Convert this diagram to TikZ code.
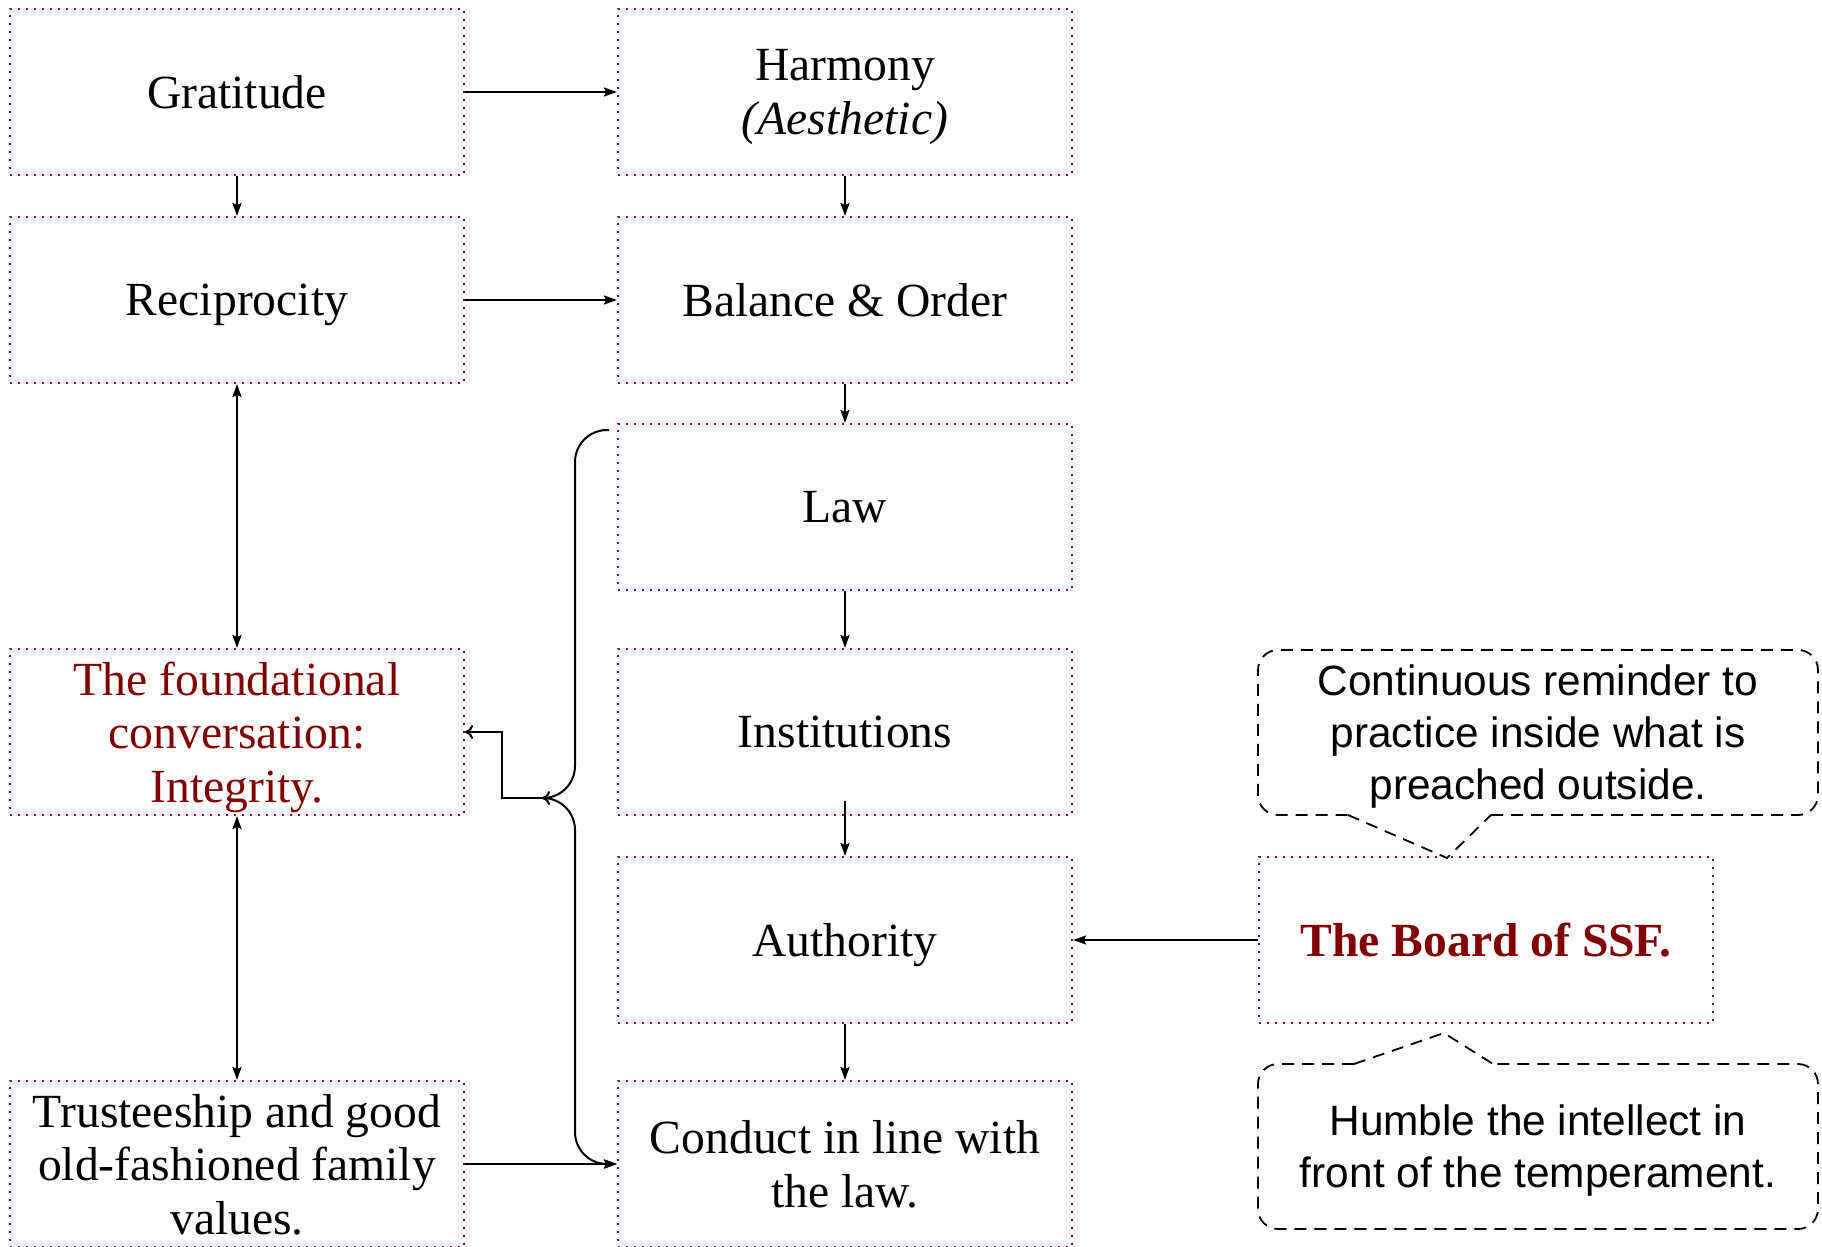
\documentclass[tikz,border=0pt]{standalone}
\usepackage{fontspec}
\setmainfont{Liberation Serif}
\setsansfont{Liberation Sans}
\usetikzlibrary{arrows.meta,calc}
\definecolor{dotred}{RGB}{153,0,51}
\definecolor{textred}{RGB}{128,0,0}
\begin{document}
\begin{tikzpicture}[x=0.5pt,y=-0.5pt,
  stage/.style={draw=dotred, line width=1pt, dash pattern=on 1pt off 3pt,
    minimum width=227pt, minimum height=83pt, inner sep=0pt, align=center,
    text depth=0pt, font=\fontsize{23.8}{26.75}\selectfont},
  note/.style={minimum width=280pt, minimum height=82.5pt, inner sep=0pt,
    align=center, text depth=0pt, font=\sffamily\fontsize{21.2}{26}\selectfont},
  outline/.style={line width=0.9pt, dash pattern=on 6pt off 4pt},
  link/.style={line width=1pt, -{Stealth[length=6.5pt,width=4.5pt,inset=1pt]}},
  twoway/.style={line width=1pt,
    {Stealth[length=6.5pt,width=4.5pt,inset=1pt]}-{Stealth[length=6.5pt,width=4.5pt,inset=1pt]}},
  bracelink/.style={line width=1pt, rounded corners=16pt,
    -{To[length=4pt,width=7pt]}}
]
\useasboundingbox (0,0) rectangle (1822,1247);

% left column
\node[stage] (grat)  at (237,92)   {Gratitude};
\node[stage] (recip) at (237,300)  {Reciprocity};
\node[stage, text=textred] (found) at (237,732)
  {The foundational\\conversation:\\Integrity.};
\node[stage] (trust) at (237,1164)
  {Trusteeship and good\\old-fashioned family\\values.};

% right column
\node[stage] (harm) at (845,92)   {Harmony\\\textit{(Aesthetic)}};
\node[stage] (bal)  at (845,300)  {Balance \& Order};
\node[stage] (law)  at (845,507)  {Law};
\node[stage] (inst) at (845,732)  {Institutions};
\node[stage] (auth) at (845,940)  {Authority};
\node[stage] (cond) at (845,1164) {Conduct in line with\\the law.};

% board and its notes
\node[stage, text=textred] (board) at (1486,940) {\textbf{The Board of SSF.}};
\node[note] (remind) at (1538,732)
  {Continuous reminder to\\practice inside what is\\preached outside.};
\node[note] (humble) at (1538,1146)
  {Humble the intellect in\\front of the temperament.};

% speech-bubble outlines
\draw[outline, rounded corners=10pt] (1491,815) -- (1818,815) -- (1818,650)
  -- (1258,650) -- (1258,815) -- (1348,815);
\draw[outline] (1348,815) -- (1447,858) -- (1491,815);
\draw[outline, rounded corners=10pt] (1354,1064) -- (1258,1064) -- (1258,1229)
  -- (1818,1229) -- (1818,1064) -- (1493,1064);
\draw[outline] (1354,1064) -- (1444,1033) -- (1493,1064);

% flow
\draw[link] (grat.east) -- (harm.west);
\draw[link] (grat.south) -- (recip.north);
\draw[link] (harm.south) -- (bal.north);
\draw[link] (recip.east) -- (bal.west);
\draw[link] (bal.south) -- (law.north);
\draw[link] (law.south) -- (inst.north);
\draw[link] ($(inst.south)+(0,-15)$) -- (auth.north);
\draw[link] (auth.south) -- (cond.north);
\draw[link] (board.west) -- (auth.east);
\draw[link] (trust.east) -- (cond.west);
\draw[twoway] (recip.south) -- (found.north);
\draw[twoway] (found.south) -- (trust.north);

% bracket from Law down to Conduct
\coordinate (bracetop) at (609,430);
\coordinate (bracetip) at (542,798);
\draw[bracelink] (bracetop) -- (575,430) -- (575,798) -- (bracetip);
\draw[line width=1pt, rounded corners=16pt, -{Stealth[length=6.5pt,width=4.5pt,inset=1pt]}]
  (bracetip) -- (575,798) -- (575,1164) -- (cond.west);
\draw[line width=1pt, -{To[length=4pt,width=7pt]}]
  (bracetip) -- (502,798) |- (found.east);
\end{tikzpicture}
\end{document}
